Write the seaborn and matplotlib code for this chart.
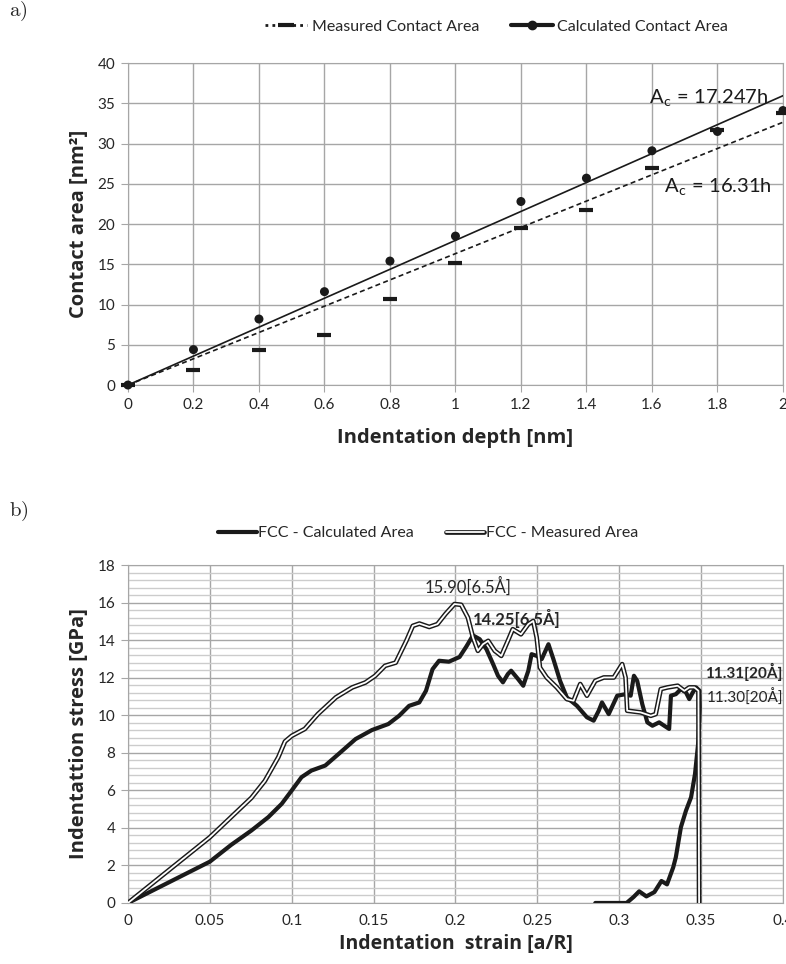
import numpy as np
import pandas as pd
import matplotlib.pyplot as plt
import matplotlib.patheffects as pe
import seaborn as sns
from matplotlib.lines import Line2D
from matplotlib.ticker import MultipleLocator, FuncFormatter

# --- a) contact area vs indentation depth ---
depth = [0, 0.2, 0.4, 0.6, 0.8, 1.0, 1.2, 1.4, 1.6, 1.8, 2.0]
measured_area = [0, 1.9, 4.3, 6.2, 10.7, 15.2, 19.5, 21.8, 27.0, 31.7, 33.8]
calculated_area = [0, 4.4, 8.2, 11.6, 15.4, 18.5, 22.8, 25.7, 29.1, 31.5, 34.1]

# --- b) indentation stress vs strain ---
strain_meas = [0, 0.05, 0.0754, 0.0836, 0.0918, 0.0959, 0.1, 0.108, 0.116, 0.127,
               0.137, 0.145, 0.151, 0.157, 0.1635, 0.170, 0.174, 0.178, 0.184, 0.189,
               0.194, 0.1994, 0.2035, 0.2076, 0.2107, 0.2137, 0.2168, 0.22, 0.224, 0.228,
               0.232, 0.235, 0.240, 0.2445, 0.2475, 0.2496, 0.2516, 0.2557, 0.2619, 0.268,
               0.2721, 0.2762, 0.2803, 0.2854, 0.2906, 0.2967, 0.3018, 0.3039, 0.3049, 0.3131,
               0.3193, 0.3223, 0.3254, 0.3295, 0.3357, 0.3398, 0.3428, 0.3459, 0.3484, 0.3488]
stress_meas = [0, 3.5, 5.6, 6.5, 7.76, 8.6, 8.9, 9.27, 10.06, 10.95,
               11.48, 11.74, 12.1, 12.63, 12.8, 13.96, 14.76, 14.88, 14.7, 14.85,
               15.4, 15.92, 15.88, 15.2, 14.14, 13.43, 13.78, 13.96, 13.43, 13.16,
               13.96, 14.58, 14.31, 14.85, 15.02, 14.14, 12.54, 12.01, 11.48, 10.86,
               10.77, 11.66, 11.04, 11.83, 12.01, 12.01, 12.72, 12.01, 10.24, 10.15,
               9.97, 10.06, 11.39, 11.48, 11.57, 11.3, 11.48, 11.48, 11.30, 0.0]

strain_calc = [0, 0.05, 0.0631, 0.0754, 0.0857, 0.0939, 0.1, 0.106, 0.112, 0.1205,
               0.1287, 0.139, 0.149, 0.159, 0.1656, 0.1717, 0.1779, 0.182, 0.186, 0.190,
               0.196, 0.2025, 0.2066, 0.2107, 0.2148, 0.2189, 0.223, 0.226, 0.229, 0.232,
               0.234, 0.2383, 0.2414, 0.2445, 0.2465, 0.2496, 0.2527, 0.2568, 0.2598, 0.2639,
               0.268, 0.2742, 0.2803, 0.2844, 0.2875, 0.2895, 0.2936, 0.2988, 0.3039, 0.307,
               0.309, 0.311, 0.3141, 0.3172, 0.3203, 0.3244, 0.3275, 0.3305, 0.3316, 0.3346,
               0.3377, 0.3408, 0.3428, 0.3449, 0.347, 0.349, 0.3492, 0.3484, 0.3463, 0.3439,
               0.3408, 0.3377, 0.3346, 0.333, 0.3292, 0.3258, 0.3215, 0.3166, 0.3122, 0.3088,
               0.3045, 0.2854]
stress_calc = [0, 2.2, 3.1, 3.86, 4.57, 5.28, 5.99, 6.7, 7.05, 7.32,
               7.94, 8.73, 9.21, 9.53, 9.97, 10.5, 10.68, 11.3, 12.45, 12.9,
               12.85, 13.1, 13.65, 14.25, 14.05, 13.52, 12.72, 12.1, 11.75, 12.19,
               12.37, 11.92, 11.57, 12.37, 13.25, 13.16, 12.99, 13.78, 12.99, 11.83,
               10.95, 10.5, 9.89, 9.71, 10.24, 10.68, 10.06, 11.04, 11.12, 11.04,
               12.1, 11.83, 10.59, 9.62, 9.44, 9.62, 9.44, 9.27, 11.04, 11.12,
               11.39, 11.21, 10.86, 11.21, 11.48, 11.31, 10.4, 8.64, 6.87, 5.63,
               4.92, 4.04, 2.44, 1.9, 0.99, 1.17, 0.58, 0.35, 0.62, 0.32,
               0.0, 0.0]

sns.set_style("white")
plt.rcParams['font.family'] = ['Lato', 'DejaVu Sans']
plt.rcParams['mathtext.fontset'] = 'cm'

INK = '#1a1a1a'
TXT = '#262626'
GRID = '#a6a6a6'
LABEL_FONT = ['Open Sans', 'DejaVu Sans']
double_line = [pe.Stroke(linewidth=3.4, foreground=INK), pe.Normal()]

fig = plt.figure(figsize=(7.86, 9.64), dpi=100)
ax1 = fig.add_axes([0.1628, 0.6006, 0.8333, 0.334])
ax2 = fig.add_axes([0.1628, 0.0633, 0.8333, 0.3506])

fmt = FuncFormatter(lambda v, p: f"{v:g}")

# ================= a) =================
df_a = pd.DataFrame({"depth": depth, "measured": measured_area, "calculated": calculated_area})
h = np.array(depth)
k_meas = np.sum(h * np.array(measured_area)) / np.sum(h * h)
k_calc = np.sum(h * np.array(calculated_area)) / np.sum(h * h)
h_fit = np.array([0, 2.0])

ax1.plot(h_fit, k_calc * h_fit, color=INK, lw=1.2, zorder=3)
ax1.plot(h_fit, k_meas * h_fit, color=INK, lw=1.2, dashes=(3, 2), zorder=3)

sns.scatterplot(data=df_a, x="depth", y="measured", marker="_", s=110, linewidth=3,
                color=INK, ax=ax1, zorder=4, clip_on=False)
sns.scatterplot(data=df_a, x="depth", y="calculated", marker="o", s=42, edgecolor="none",
                color=INK, ax=ax1, zorder=5, clip_on=False)

ax1.set_xlim(0, 2)
ax1.set_ylim(0, 40)
ax1.xaxis.set_major_locator(MultipleLocator(0.2))
ax1.yaxis.set_major_locator(MultipleLocator(5))
ax1.xaxis.set_major_formatter(fmt)
ax1.grid(True, color=GRID, lw=1)
ax1.set_axisbelow(True)
for s in ax1.spines.values():
    s.set_color(GRID)
ax1.tick_params(axis="both", direction="out", length=5, color=GRID, labelsize=11,
                labelcolor=TXT, pad=4, left=True, bottom=True)
ax1.set_xlabel("Indentation depth [nm]", fontsize=14.5, fontweight="bold",
               family=LABEL_FONT, color=TXT)
ax1.set_ylabel("Contact area [nm²]", fontsize=14.5, fontweight="bold",
               family=LABEL_FONT, color=TXT)
ax1.xaxis.set_label_coords(0.5, -0.135)
ax1.yaxis.set_label_coords(-0.06, 0.5)

ax1.text(1.955, 35.6, "A$_\\mathregular{c}$ = 17.247h", fontsize=14.5, color=INK,
         ha="right", va="center")
ax1.text(1.965, 24.6, "A$_\\mathregular{c}$ = 16.31h", fontsize=14.5, color=INK,
         ha="right", va="center")

h_meas = Line2D([], [], color=INK, lw=2, linestyle=(0, (1, 1.5)), marker="_",
                markersize=11, markeredgewidth=3)
h_calc = Line2D([], [], color=INK, lw=3, marker="o", markersize=6)
fig.legend([h_meas, h_calc], ["Measured Contact Area", "Calculated Contact Area"],
           loc="center", bbox_to_anchor=(0.632, 0.972), ncol=2, frameon=False,
           fontsize=11.5, handlelength=2.6, handletextpad=0.3, columnspacing=2.0,
           labelcolor=TXT)

fig.text(0.012, 0.988, r"$\mathrm{a)}$", fontsize=15, ha="left", va="center")

# ================= b) =================
df_m = pd.DataFrame({"strain": strain_meas, "stress": stress_meas})
df_c = pd.DataFrame({"strain": strain_calc, "stress": stress_calc})

sns.lineplot(data=df_c, x="strain", y="stress", sort=False, estimator=None,
             color=INK, lw=3, ax=ax2, zorder=3, solid_joinstyle="round")
sns.lineplot(data=df_m, x="strain", y="stress", sort=False, estimator=None,
             color="white", lw=1.3, ax=ax2, zorder=4, solid_joinstyle="round",
             path_effects=double_line)

ax2.set_xlim(0, 0.4)
ax2.set_ylim(0, 18)
ax2.xaxis.set_major_locator(MultipleLocator(0.05))
ax2.yaxis.set_major_locator(MultipleLocator(2))
ax2.yaxis.set_minor_locator(MultipleLocator(0.4))
ax2.xaxis.set_major_formatter(fmt)
ax2.grid(True, which="minor", axis="y", color="#cccccc", lw=1)
ax2.grid(True, which="major", color=GRID, lw=1)
ax2.set_axisbelow(True)
for s in ax2.spines.values():
    s.set_color(GRID)
ax2.tick_params(axis="y", which="major", direction="out", length=5, color=GRID,
                labelsize=11, labelcolor=TXT, pad=4, left=True)
ax2.tick_params(axis="x", which="major", length=0, labelsize=11, labelcolor=TXT, pad=8)
ax2.tick_params(which="minor", length=0)
ax2.set_xlabel("Indentation  strain [a/R]", fontsize=14, fontweight="bold",
               family=LABEL_FONT, color=TXT)
ax2.set_ylabel("Indentattion stress [GPa]", fontsize=14.5, fontweight="bold",
               family=LABEL_FONT, color=TXT)
ax2.xaxis.set_label_coords(0.5, -0.092)
ax2.yaxis.set_label_coords(-0.06, 0.5)

ax2.text(0.2074, 16.88, "15.90[6.5Å]", fontsize=12, color=TXT, ha="center", va="center")
ax2.text(0.2105, 15.17, "14.25[6.5Å]", fontsize=12, fontweight="bold", color=TXT,
         ha="left", va="center")
ax2.text(0.3522, 12.33, "11.31[20Å]", fontsize=11, fontweight="bold", color=TXT,
         ha="left", va="center")
ax2.text(0.3532, 10.95, "11.30[20Å]", fontsize=11, color=TXT, ha="left", va="center")

hc = Line2D([], [], color=INK, lw=3)
hm = Line2D([], [], color="white", lw=1.3, path_effects=double_line)
fig.legend([hc, hm], ["FCC - Calculated Area", "FCC - Measured Area"],
           loc="center", bbox_to_anchor=(0.545, 0.447), ncol=2, frameon=False,
           fontsize=11.5, handlelength=2.4, handletextpad=0.1, columnspacing=2.0,
           labelcolor=TXT)

fig.text(0.012, 0.469, r"$\mathrm{b)}$", fontsize=15, ha="left", va="center")

fig.savefig("out.png", dpi=100)
